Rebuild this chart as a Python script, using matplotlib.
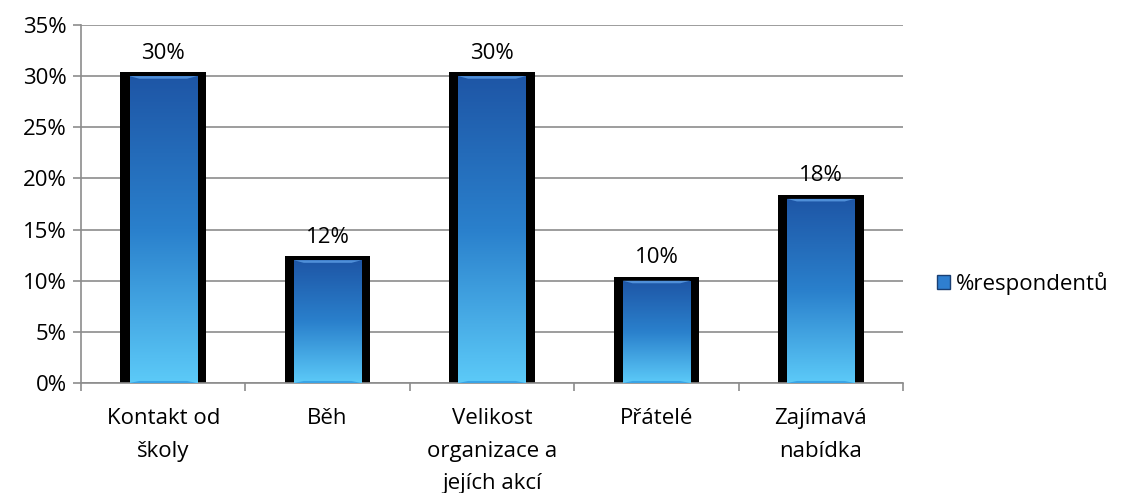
import matplotlib
matplotlib.use("Agg")
import matplotlib.pyplot as plt
import numpy as np
from matplotlib.patches import Rectangle, Polygon, Patch
from matplotlib.colors import LinearSegmentedColormap

categories = ["Kontakt od\nškoly", "Běh", "Velikost\norganizace a\njejích akcí", "Přátelé", "Zajímavá\nnabídka"]
values = [0.30, 0.12, 0.30, 0.10, 0.18]
series_name = "%respondentů"
y_ticks = [0, 0.05, 0.10, 0.15, 0.20, 0.25, 0.30, 0.35]

plt.rcParams["font.family"] = ["Open Sans", "DejaVu Sans"]
plt.rcParams["font.size"] = 16

fig = plt.figure(figsize=(11.25, 4.93), dpi=100)
ax = fig.add_axes([0.072, 0.2231, 0.7307, 0.7262])

grid_col = "#8c8c8c"
ax.set_xlim(0, len(values))
ax.set_ylim(0, 0.35)
ax.set_yticks(y_ticks)
ax.set_yticklabels([f"{int(round(t * 100))}%" for t in y_ticks])
ax.yaxis.grid(True, color=grid_col, linewidth=1.2)
ax.set_axisbelow(True)
for side in ("top", "right"):
    ax.spines[side].set_visible(False)
for side in ("left", "bottom"):
    ax.spines[side].set_color(grid_col)
    ax.spines[side].set_linewidth(1.2)
ax.tick_params(axis="y", length=6, color=grid_col, width=1.2, pad=4)
ax.set_xticks(np.arange(len(values) + 1))
ax.set_xticklabels([])
ax.set_xticks(np.arange(len(values)) + 0.5, minor=True)
ax.set_xticklabels(categories, minor=True)
ax.tick_params(axis="x", which="major", length=6, color=grid_col, width=1.2)
ax.tick_params(axis="x", which="minor", length=0, pad=18)
for lbl in ax.get_xticklabels(minor=True):
    lbl.set_linespacing(1.72)

cmap = LinearSegmentedColormap.from_list("bar", ["#1e56a6", "#2a80cc", "#5ccaf8"])
grad = np.linspace(0, 1, 256).reshape(-1, 1)

outer_w = 0.52
inner_w = 0.41
for i, v in enumerate(values):
    cx = i + 0.5
    ax.add_patch(Rectangle((cx - outer_w / 2, 0), outer_w, v + 0.004,
                           facecolor="black", edgecolor="none", zorder=2))
    x0, x1 = cx - inner_w / 2, cx + inner_w / 2
    im = ax.imshow(grad, cmap=cmap, extent=(x0, x1, 0, v), aspect="auto",
                   origin="upper", zorder=3)
    clip = Rectangle((x0, 0), inner_w, v, transform=ax.transData)
    im.set_clip_path(clip)
    bev = 0.0025
    dx = 0.06
    ax.add_patch(Polygon([(x0, v), (x1, v), (x1 - dx, v - bev), (x0 + dx, v - bev)],
                         closed=True, facecolor="#4f8fd8", edgecolor="none", zorder=4))
    ax.add_patch(Polygon([(x0, 0), (x1, 0), (x1 - dx, bev * 0.8), (x0 + dx, bev * 0.8)],
                         closed=True, facecolor="#3aa4e6", edgecolor="none", zorder=4))
    ax.annotate(f"{int(v * 100)}%", (cx, v + 0.004), xytext=(0, 6),
                textcoords="offset points", ha="center", va="bottom", fontsize=16)

ax.set_xlim(0, len(values))
ax.set_ylim(0, 0.35)

handle = Patch(facecolor="#2f7fd0", edgecolor="#1a3f73", label=series_name)
fig.legend(handles=[handle], loc="center left", bbox_to_anchor=(0.815, 0.425),
           frameon=False, handlelength=0.6, handleheight=0.6, handletextpad=0.25,
           fontsize=16)

fig.savefig("out.png", dpi=100)
